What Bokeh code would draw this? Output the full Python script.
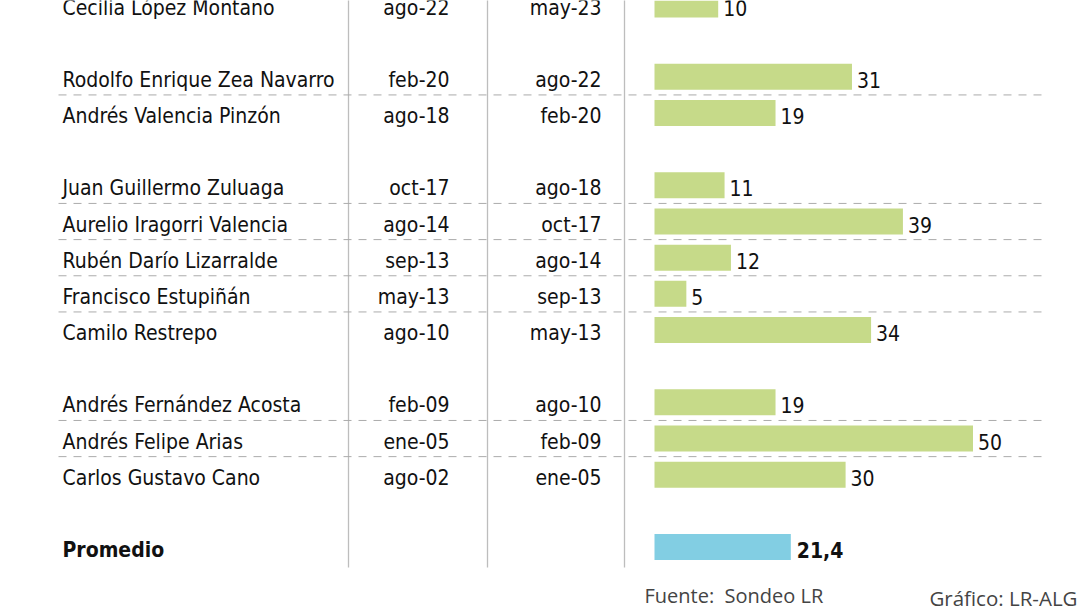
from bokeh.plotting import figure
from bokeh.models import Range1d, ColumnDataSource
from bokeh.core.properties import value
from bokeh.embed import file_html
from bokeh.resources import INLINE

# Ministers, start/end of term and months in office
nombres = [
    "Cecilia López Montano",
    "Rodolfo Enrique Zea Navarro",
    "Andrés Valencia Pinzón",
    "Juan Guillermo Zuluaga",
    "Aurelio Iragorri Valencia",
    "Rubén Darío Lizarralde",
    "Francisco Estupiñán",
    "Camilo Restrepo",
    "Andrés Fernández Acosta",
    "Andrés Felipe Arias",
    "Carlos Gustavo Cano",
]
inicio = ["ago-22", "feb-20", "ago-18", "oct-17", "ago-14", "sep-13",
          "may-13", "ago-10", "feb-09", "ene-05", "ago-02"]
fin = ["may-23", "ago-22", "feb-20", "ago-18", "oct-17", "ago-14",
       "sep-13", "may-13", "ago-10", "feb-09", "ene-05"]
meses = [10, 31, 19, 11, 39, 12, 5, 34, 19, 50, 30]
# government each minister belongs to (a blank row separates governments)
gobierno = [0, 1, 1, 2, 2, 2, 2, 2, 3, 3, 3]

promedio_label = "Promedio"
promedio = 21.4

fuente = "Fuente:\u00a0 Sondeo LR"
credito = "Gráfico: LR-ALG"

# row index of each minister: position plus one spacer row per group change
filas = [i + g for i, g in enumerate(gobierno)]
fila_prom = filas[-1] + 2

# dashed separators only between ministers of the same government
sep_y = [(filas[i] + filas[i + 1]) / 2 for i in range(len(filas) - 1)
         if gobierno[i] == gobierno[i + 1]]

W, H = 1080, 608
ROW = 36.17          # pixels per row
TOP = 4              # centre of first row, px from top
BAR0 = 654           # bar origin, px
PX_PER_UNIT = 6.37   # bar scale

p = figure(width=W, height=H, output_backend="svg", toolbar_location=None,
           x_range=Range1d(0, W),
           y_range=Range1d((H - TOP) / ROW, -TOP / ROW),
           min_border=0, outline_line_color=None)
p.extra_x_ranges = {"val": Range1d(-BAR0 / PX_PER_UNIT, (W - BAR0) / PX_PER_UNIT)}
p.axis.visible = False
p.grid.visible = False
p.background_fill_color = "white"
p.border_fill_color = "white"

FONT = value("DejaVu Sans Condensed, Roboto")
TXT = "#111111"
FS = "21px"

src = ColumnDataSource(dict(y=filas, nombre=nombres, ini=inicio, fin=fin, meses=meses,
                            lab=[str(m) for m in meses]))

# column separators
bottom_row = (567 - TOP) / ROW
for xc in (348, 487, 624):
    p.segment(x0=xc, y0=-1, x1=xc, y1=bottom_row, line_color="#bdbdbd", line_width=1.3)

# dashed row separators
p.segment(x0=58, x1=1047, y0=sep_y, y1=sep_y, line_color="#ababab",
          line_width=1, line_dash="8 7")

# bars
p.hbar(y="y", left=0, right="meses", height=26 / ROW, source=src,
       fill_color="#c6da89", line_color=None, x_range_name="val")
p.hbar(y=[fila_prom], left=0, right=[promedio], height=26 / ROW,
       fill_color="#82cee3", line_color=None, x_range_name="val")

# table text
common = dict(text_font=FONT, text_font_size=FS, text_color=TXT,
              text_baseline="middle", y_offset=3)
p.text(x=62, y="y", text="nombre", source=src, text_align="left", **common)
p.text(x=449, y="y", text="ini", source=src, text_align="right", **common)
p.text(x=601, y="y", text="fin", source=src, text_align="right", **common)
p.text(x="meses", y="y", text="lab", source=src, text_align="left",
       x_offset=5, x_range_name="val", **common)

# average row
p.text(x=[62], y=[fila_prom], text=[promedio_label], text_align="left",
       text_font_style="bold", **common)
p.text(x=[promedio], y=[fila_prom], text=[f"{promedio:.1f}".replace(".", ",")],
       text_align="left", text_font_style="bold", x_offset=6,
       x_range_name="val", **common)

# footer
p.text(x=[644], y=[(595 - TOP) / ROW], text=[fuente], text_align="left",
       text_baseline="middle", text_font=value("Open Sans"), text_font_size="20px",
       text_color="#444444")
p.text(x=[1077], y=[(597 - TOP) / ROW], text=[credito], text_align="right",
       text_baseline="middle", text_font=value("Open Sans"), text_font_size="20.5px",
       text_color="#444444")

open("out.html", "w").write(file_html(p, INLINE))
